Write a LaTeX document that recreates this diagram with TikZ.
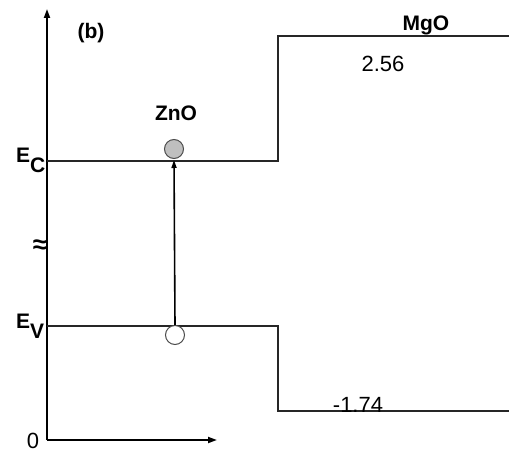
\documentclass[tikz,border=0pt]{standalone}
\usepackage{fontspec}
\setmainfont{Liberation Sans}
\usetikzlibrary{positioning,arrows.meta}

\begin{document}
\begin{tikzpicture}[x=1pt, y=-1pt,
  band/.style={draw=black!85, line width=1.7pt},
  axis/.style={draw=black, line width=1.8pt, -{Triangle[length=9pt,width=6pt]}},
  lbl/.style={font=\fontsize{21}{24}\selectfont\bfseries, inner sep=0pt},
  val/.style={font=\fontsize{22}{26}\selectfont, inner sep=0pt},
  carrier/.style={circle, draw=black!70, line width=1pt, minimum size=19pt, inner sep=0pt}]
\useasboundingbox (0,0) rectangle (509,452);
% axes
\coordinate (origin) at (47,440);
\coordinate (ytop)   at (47,9);
\coordinate (xend)   at (217,440);
\draw[axis] (origin) -- (ytop);
\draw[axis] (origin) -- (xend);
\node[val, anchor=base] (zero) at (33,448) {0};
\node[font=\fontsize{26}{28}\selectfont\bfseries, inner sep=0pt] (brk) at (40,247) {≈};
% band edges
\coordinate (ecl) at (47,161);
\coordinate (ecs) at (278,161);
\coordinate (mcs) at (278,36);
\coordinate (mcr) at (509,36);
\coordinate (evl) at (47,326);
\coordinate (evs) at (278,326);
\coordinate (mvs) at (278,411);
\coordinate (mvr) at (509,411);
\draw[band] (ecl) -- (ecs) -- (mcs) -- (mcr);
\draw[band] (evl) -- (evs) -- (mvs) -- (mvr);
% labels
\node[lbl, anchor=base west] (ec) at (16,162) {E\raisebox{-10pt}{C}};
\node[lbl, anchor=base west] (ev) at (16,328) {E\raisebox{-10pt}{V}};
\node[lbl] (panel) at (91,33) {(b)};
\node[lbl] (zno) at (176,113) {ZnO};
\node[lbl, anchor=base] (mgo) at (426,31) {MgO};
\node[val, anchor=base] (cbo) at (383,71) {2.56};
\node[val, anchor=base] (vbo) at (358,412) {-1.74};
% carriers
\node[carrier, fill=black!25] (elec) at (174,149) {};
\node[carrier, fill=white] (hole) at (175,335) {};
\coordinate (exc) at (174,160);
\draw[line width=1.6pt, -{Triangle[length=8pt,width=5pt]}] (hole.north) -- (exc);
\end{tikzpicture}
\end{document}
